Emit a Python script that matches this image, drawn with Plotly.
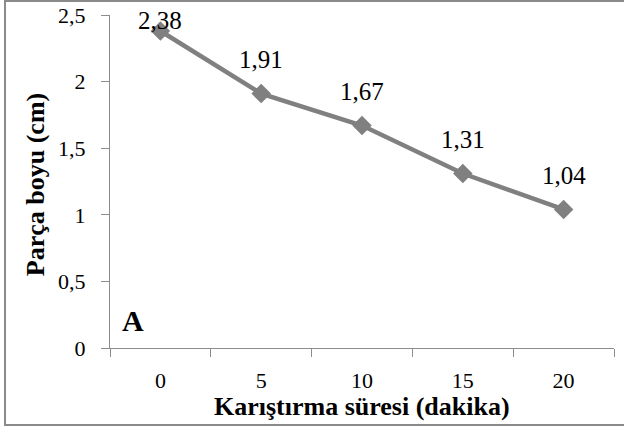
import plotly.graph_objects as go

categories = ["0", "5", "10", "15", "20"]
values = [2.38, 1.91, 1.67, 1.31, 1.04]
label_shift = [10, 34, 34, 34, 34]
x_title = "Karıştırma süresi (dakika)"
y_title = "Parça boyu (cm)"
panel = "A"

FONT = "'Liberation Serif', 'Times New Roman', Times, serif"
GRAY = "#808080"
AX = "#8c8c8c"

fig = go.Figure()
fig.add_trace(go.Scatter(
    x=categories, y=values, mode="lines+markers",
    line=dict(color=GRAY, width=4.5),
    marker=dict(symbol="diamond", size=15, color=GRAY),
    hoverinfo="skip", showlegend=False,
))

annotations = []
for i, (v, s) in enumerate(zip(values, label_shift)):
    annotations.append(dict(
        x=i, y=v, xref="x", yref="y", text=f"{v:.2f}".replace(".", ","),
        showarrow=False, yshift=s, font=dict(family=FONT, size=25, color="black"),
        xanchor="center", yanchor="middle",
    ))

annotations += [
    dict(x=0.5, y=-0.177, xref="paper", yref="paper", text=f"<b>{x_title}</b>",
         showarrow=False, font=dict(family=FONT, size=26, color="black"),
         xanchor="center", yanchor="middle"),
    dict(x=-0.1488, y=0.489, xref="paper", yref="paper", text=f"<b>{y_title}</b>",
         showarrow=False, textangle=-90, font=dict(family=FONT, size=26, color="black"),
         xanchor="center", yanchor="middle"),
    dict(x=0.0456, y=0.084, xref="paper", yref="paper", text=f"<b>{panel}</b>",
         showarrow=False, font=dict(family=FONT, size=30, color="black"),
         xanchor="center", yanchor="middle"),
]

fig.update_layout(
    width=624, height=429,
    margin=dict(l=110, r=10, t=15, b=81, autoexpand=False),
    paper_bgcolor="white", plot_bgcolor="white",
    separators=",.",
    font=dict(family=FONT, size=22, color="black"),
    annotations=annotations,
    shapes=[dict(type="rect", xref="paper", yref="paper",
                 x0=-0.2083, x1=1.0238, y0=-0.2312, y1=1.042,
                 line=dict(color="#8a8a8a", width=2), fillcolor="rgba(0,0,0,0)")],
)

fig.update_xaxes(
    type="category", categoryorder="array", categoryarray=categories,
    range=[-0.5, 4.5], tickson="boundaries", ticks="outside", ticklen=8,
    tickcolor=AX, showline=True, linecolor=AX, linewidth=1, automargin=False,
    showgrid=False, zeroline=False, ticklabelstandoff=13,
    tickfont=dict(family=FONT, size=22, color="black"),
)
fig.update_yaxes(
    range=[0, 2.5], tickvals=[0, 0.5, 1, 1.5, 2, 2.5], ticks="outside", ticklen=8,
    tickcolor=AX, showline=True, linecolor=AX, linewidth=1, automargin=False,
    showgrid=False, zeroline=False, ticklabelstandoff=11,
    tickfont=dict(family=FONT, size=22, color="black"),
)

fig.write_html("out.html")
